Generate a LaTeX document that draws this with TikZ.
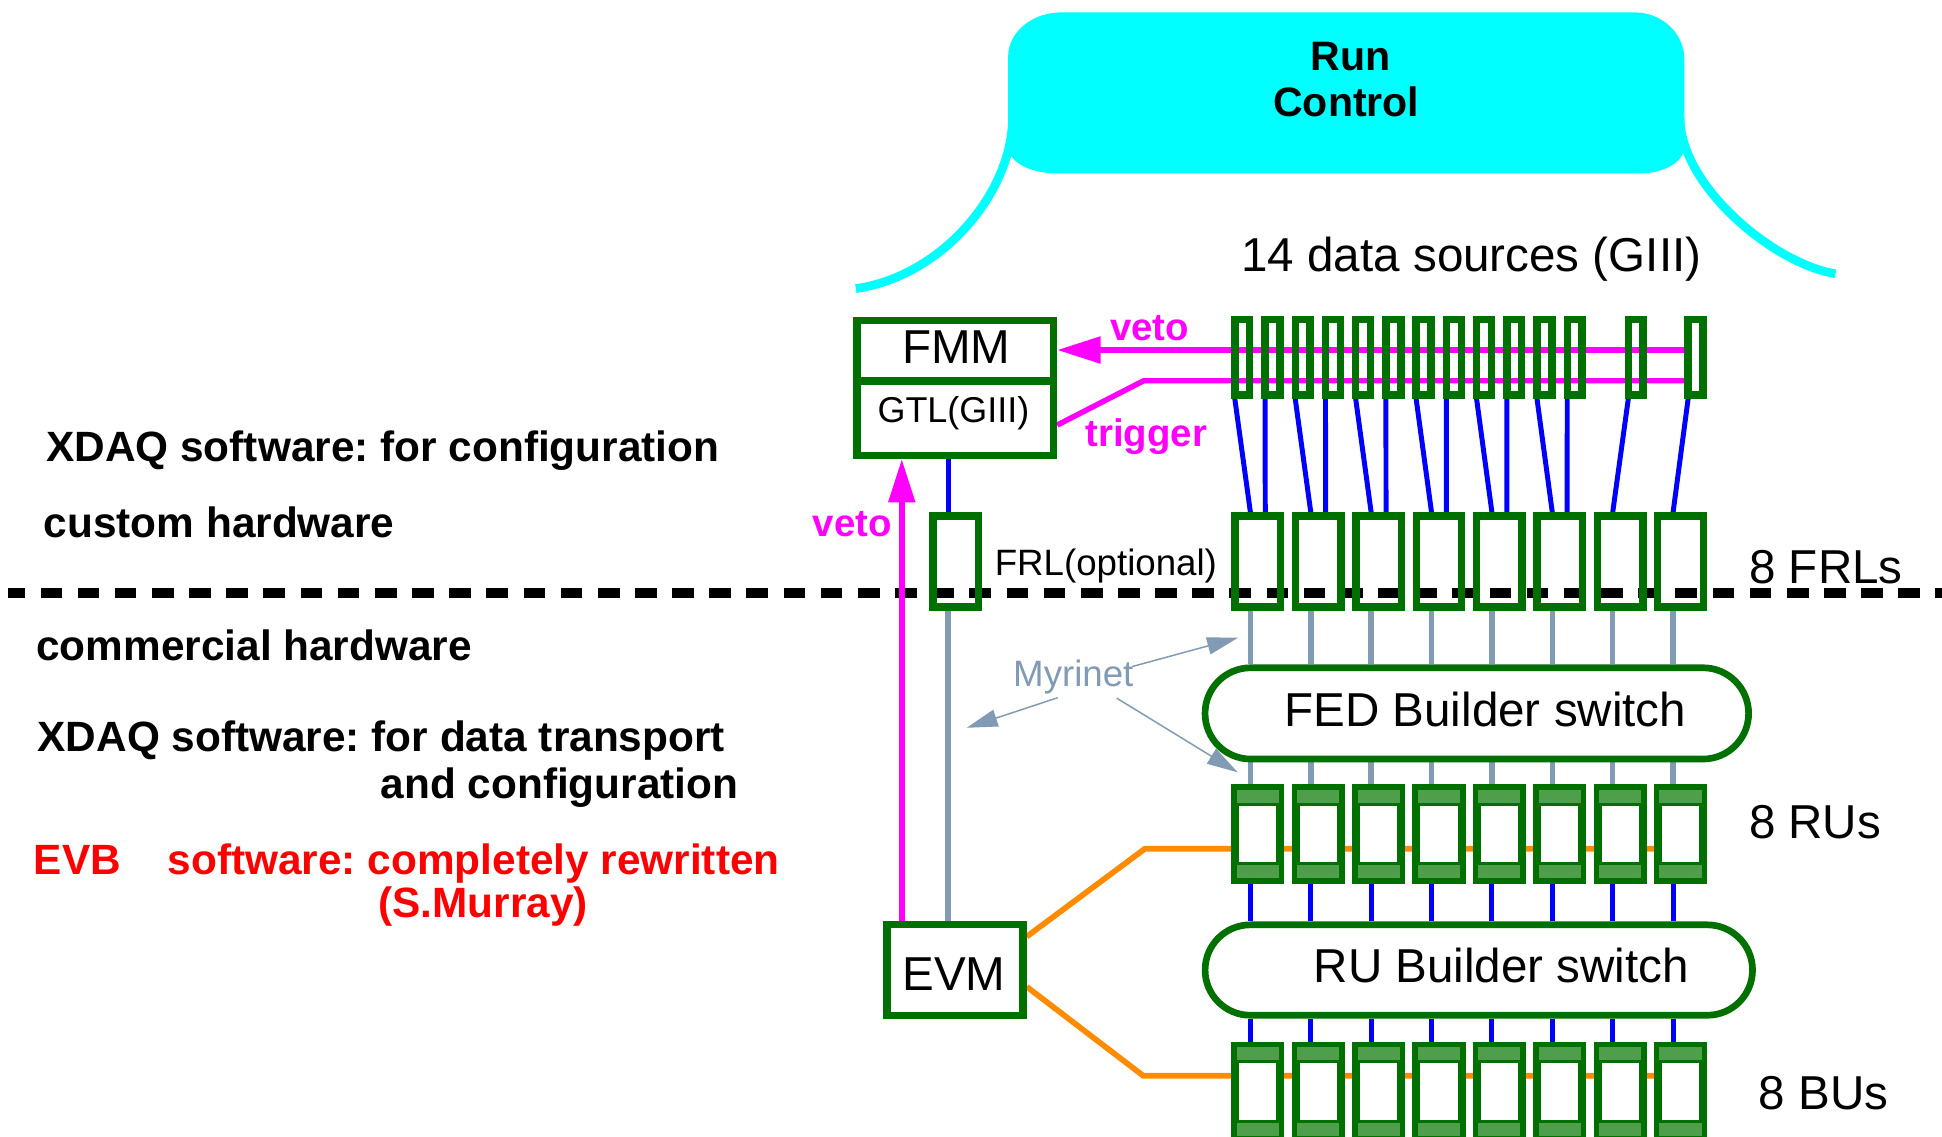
\documentclass[tikz,border=0pt]{standalone}
\usepackage{fontspec}
\setmainfont{Liberation Sans}
\usetikzlibrary{arrows.meta,calc,shapes.misc}
\frenchspacing

\definecolor{dkgreen}{RGB}{0,112,0}
\definecolor{ltgreen}{RGB}{78,158,76}
\definecolor{rccyan}{RGB}{0,255,255}
\definecolor{vetomag}{RGB}{255,0,255}
\definecolor{linkblue}{RGB}{0,0,255}
\definecolor{evmorange}{RGB}{255,140,0}
\definecolor{myrigray}{RGB}{130,155,180}
\definecolor{evbred}{RGB}{255,0,0}

\pgfdeclarelayer{back}
\pgfdeclarelayer{links}
\pgfsetlayers{back,links,main}

\tikzset{
  dsbox/.style={draw=dkgreen, line width=3pt, minimum width=6pt, minimum height=30.5pt, inner sep=0pt},
  frlbox/.style={draw=dkgreen, line width=3pt, minimum width=18.35pt, minimum height=36.75pt, inner sep=0pt},
  unitbox/.style={draw=dkgreen, fill=ltgreen, line width=2.25pt, minimum width=19.25pt,
    minimum height=37.9pt, inner sep=0pt,
    path picture={\draw[dkgreen, fill=white, line width=1.2pt]
      ([xshift=-8.075pt,yshift=-12pt]path picture bounding box.center) rectangle
      ([xshift=8.075pt,yshift=12pt]path picture bounding box.center);}},
  fmmbox/.style={draw=dkgreen, fill=white, line width=3pt, minimum width=79.3pt, minimum height=54.5pt, inner sep=0pt},
  evmbox/.style={draw=dkgreen, fill=white, line width=3pt, minimum width=54.9pt, minimum height=36.8pt, inner sep=0pt},
  switchbox/.style={rounded rectangle, draw=dkgreen, fill=white, line width=2.7pt, inner sep=0pt},
  vetoline/.style={vetomag, line width=2.2pt},
  vetotip/.style={-{Triangle[length=17.5pt,width=10.5pt]}},
  bluelink/.style={linkblue, line width=2pt},
  graylink/.style={myrigray, line width=2.2pt},
  orangelink/.style={evmorange, line width=2.3pt},
  myriarrow/.style={myrigray, line width=0.6pt, -{Triangle[length=12.5pt,width=7pt]}},
  txtbig/.style={inner sep=0pt, font=\fontsize{19.2}{23}\selectfont},
  txtsmall/.style={inner sep=0pt, font=\fontsize{14.8}{17}\selectfont},
  txtbold/.style={inner sep=0pt, font=\bfseries\fontsize{17.1}{20}\selectfont},
  txtrc/.style={inner sep=0pt, font=\bfseries\fontsize{16.6}{19}\selectfont},
  txtmag/.style={inner sep=0pt, text=vetomag, font=\bfseries\fontsize{15.5}{18}\selectfont},
  txtred/.style={txtbold, text=evbred},
  txtmyri/.style={inner sep=0pt, text=myrigray, font=\fontsize{14.8}{17}\selectfont},
}

\begin{document}
\begin{tikzpicture}[x=0.5pt,y=-0.5pt]
\useasboundingbox (0,0) rectangle (1568,918);
\clip (0,0) rectangle (1568,918);

\begin{pgfonlayer}{back}
  \fill[white] (0,0) rectangle (1568,918);
  % Run Control bell
  \fill[rccyan] (814,45.5) .. controls (814,25.9) and (833.3,10) .. (857,10)
    -- (1320,10) .. controls (1342,10) and (1360,27) .. (1360,48)
    -- (1360,118.5) .. controls (1360,130.4) and (1343.9,140) .. (1324,140)
    -- (853,140) .. controls (831.5,140) and (814,130.4) .. (814,118.5) -- cycle;
  \draw[rccyan, line width=3.5pt] (817.5,95) .. controls (817.5,155) and (761,223) .. (691,233);
  \draw[rccyan, line width=3.5pt] (1356.5,95) .. controls (1356.5,150) and (1432,213) .. (1482,221);
  % custom / commercial hardware boundary
  \draw[black, line width=4pt, dash pattern=on 8.75pt off 6.25pt, dash phase=1.8pt] (6.3,478.5) -- (1568,478.5);
\end{pgfonlayer}

% boxes
\node[fmmbox] (fmm) at (771.3,313.2) {};
\draw[dkgreen, line width=3pt] ($(fmm.west)+(0,-5.7)$) -- ($(fmm.east)+(0,-5.7)$);
\node[evmbox] (evm) at (771.1,783.2) {};
\node[frlbox] (frlopt) at (771.5,453.5) {};
\foreach \k in {1,...,12} \node[dsbox] (ds\k) at ({1003+24.4*(\k-1)},288.5) {};
\node[dsbox] (ds13) at (1320.7,288.5) {};
\node[dsbox] (ds14) at (1369,288.5) {};
\foreach \k in {1,...,8} {
  \node[frlbox] (frl\k) at ({1015.6+48.75*(\k-1)},453.5) {};
  \node[unitbox] (ru\k) at ({1015.6+48.75*(\k-1)},673.4) {};
  \node[unitbox] (bu\k) at ({1015.6+48.75*(\k-1)},881.2) {};
}
\node[switchbox, minimum width=219.45pt, minimum height=36.85pt] (fedsw) at (1192.4,576) {};
\node[switchbox, minimum width=221pt, minimum height=36.5pt] (rusw) at (1194,783.2) {};

\begin{pgfonlayer}{links}
  % veto and trigger lines
  \coordinate (vetoin) at ($(ds14.west)+(0,-5.9)$);
  \draw[vetoline, vetotip] (vetoin) -- (vetoin -| fmm.east);
  \coordinate (trigin) at ($(ds14.west)+(0,18.9)$);
  \coordinate (trigbend) at (923.4,307.4);
  \draw[vetoline] ($(fmm.east)+(0,30)$) -- (trigbend) -- (trigin);
  \coordinate (evmveto) at ($(evm.north)+(-43,0)$);
  \draw[vetoline, vetotip] (evmveto) -- (evmveto |- fmm.south);
  % optional FRL path
  \coordinate (optx) at ($(frlopt.north)+(-6,0)$);
  \draw[bluelink] (optx |- fmm.south) -- (optx);
  \coordinate (optb) at ($(frlopt.south)+(-6,0)$);
  \draw[graylink] (optb) -- (optb |- evm.north);
  % data sources to FRLs
  \foreach \k in {1,...,6} {
    \pgfmathtruncatemacro{\dsa}{2*\k-1}
    \pgfmathtruncatemacro{\dsb}{2*\k}
    \draw[bluelink] ($(ds\dsa.south)+(-6,0)$) -- ($(frl\k.north)+(-6,0)$);
    \draw[bluelink] ($(ds\dsb.south)+(-6,0)$) -- ($(frl\k.north)+(6,0)$);
  }
  \draw[bluelink] ($(ds13.south)+(-6,0)$) -- ($(frl7.north)+(-6,0)$);
  \draw[bluelink] ($(ds14.south)+(-6,0)$) -- ($(frl8.north)+(-6,0)$);
  % builder columns
  \foreach \k in {1,...,8} {
    \coordinate (col\k) at ($(frl\k.south)+(-6,0)$);
    \draw[graylink] (col\k) -- (col\k |- fedsw.north);
    \draw[graylink] (col\k |- fedsw.south) -- (col\k |- ru\k.north);
    \draw[bluelink] (col\k |- ru\k.south) -- (col\k |- rusw.north);
    \draw[bluelink] (col\k |- rusw.south) -- (col\k |- bu\k.north);
  }
  % EVM to RUs and BUs
  \coordinate (rubend) at (924.5,685.2);
  \coordinate (bubend) at (923,868.5);
  \draw[orangelink] ($(evm.east)+(0,-27)$) -- (rubend) -- (rubend -| ru8.west);
  \draw[orangelink] ($(evm.east)+(0,13.5)$) -- (bubend) -- (bubend -| bu8.west);
\end{pgfonlayer}

% labels
\node[txtrc, anchor=base] (runlbl) at (1090.5,57) {Run};
\node[txtrc, anchor=base] (ctrllbl) at (1087,94.2) {Control};
\node[txtbig, anchor=base] (srclbl) at (1188,219.5) {14 data sources (GIII)};
\node[txtbig, anchor=base] (fmmlbl) at (772,293.4) {FMM};
\node[inner sep=0pt, font=\fontsize{14.5}{17}\selectfont, anchor=base] (gtllbl) at (769.8,341.3) {GTL(GIII)};
\node[txtmag, anchor=base] (vetolblA) at (928.2,275) {veto};
\node[txtmag, anchor=base] (triglbl) at (925.5,360.7) {trigger};
\node[txtmag, anchor=base] (vetolblB) at (688.1,433.3) {veto};
\node[txtsmall, anchor=base] (optlbl) at (892.9,464.3) {FRL(optional)};
\node[txtbig, anchor=base] (frlslbl) at (1474.3,471) {8 FRLs};
\node[txtbig, anchor=base] (fedlbl) at (1199.3,586.2) {FED Builder switch};
\node[txtbig, anchor=base] (ruslbl) at (1465.5,677) {8 RUs};
\node[txtbig, anchor=base] (rulbl) at (1212.2,793.2) {RU Builder switch};
\node[txtbig, anchor=base] (evmlbl) at (770.2,799.4) {EVM};
\node[txtbig, anchor=base] (buslbl) at (1472.3,896.2) {8 BUs};

\node[txtmyri, anchor=base] (myri) at (866.6,554.4) {Myrinet};
\coordinate (myritipA) at (999.6,514.9);
\coordinate (myritipB) at (780.5,587.6);
\coordinate (myritipC) at (999.4,623.6);
\draw[myriarrow] ($(myri.north east)+(-1.3,5.6)$) -- (myritipA);
\draw[myriarrow] ($(myri.south)+(-12.6,2.4)$) -- (myritipB);
\draw[myriarrow] ($(myri.south)+(35,2.7)$) -- (myritipC);

\node[txtbold, anchor=base west] (cfglbl) at (37,373) {XDAQ software: for configuration};
\node[txtbold, anchor=base west] (customlbl) at (35,434) {custom hardware};
\node[txtbold, anchor=base west] (commlbl) at (29,533) {commercial hardware};
\node[txtbold, anchor=base west] (xportlbl) at (30,607) {XDAQ software: for data transport};
\node[txtbold, anchor=base west] (andlbl) at (307,645) {and configuration};
\node[txtred, anchor=base west] (evblbl) at (27,706) {EVB};
\node[txtred, anchor=base west] (rewritelbl) at (135,706) {software: completely rewritten};
\node[txtred, anchor=base west] (murraylbl) at (305,741) {(S.Murray)};
\end{tikzpicture}
\end{document}
